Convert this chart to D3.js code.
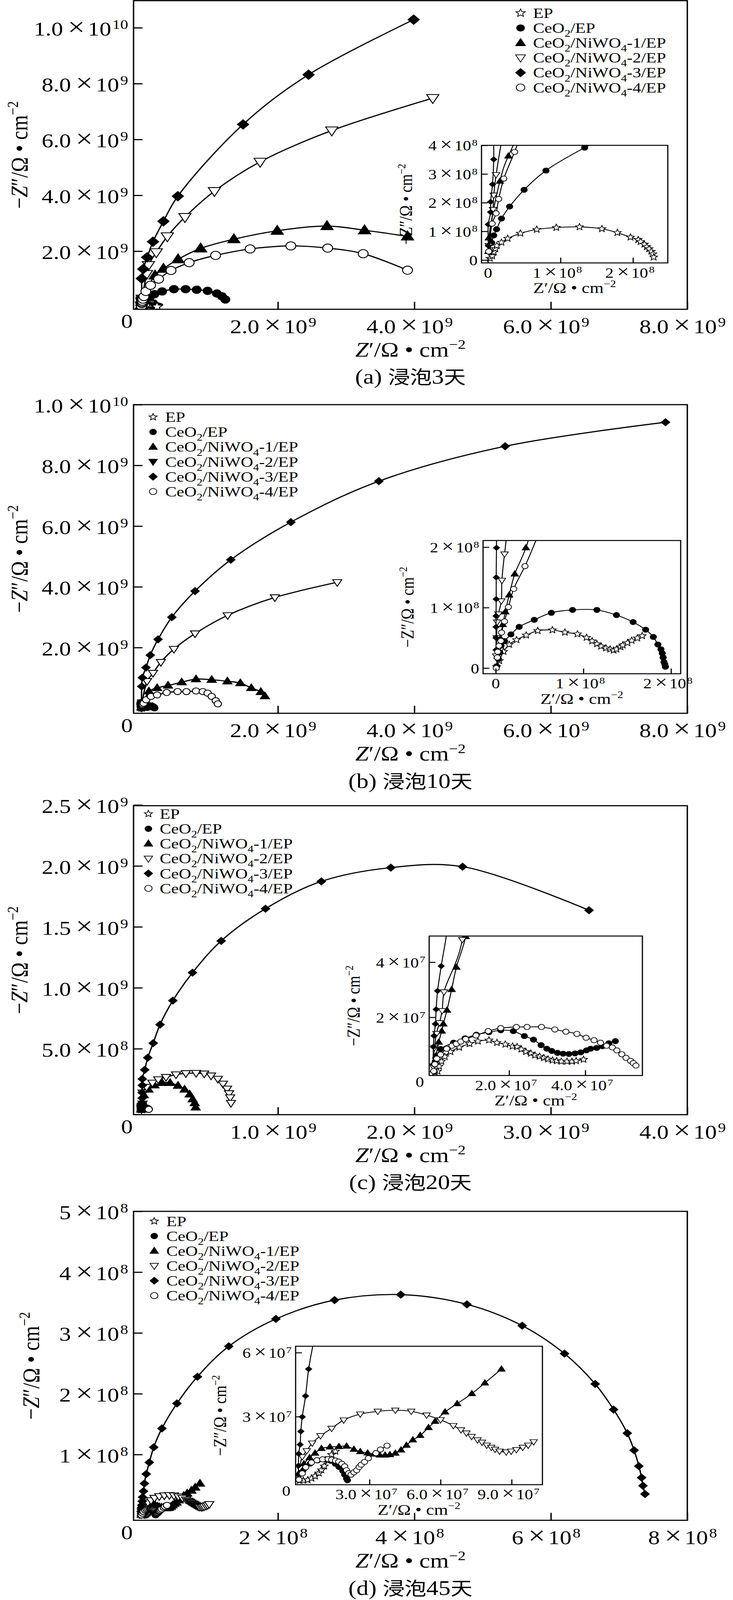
<!DOCTYPE html>
<html>
<head>
<meta charset="utf-8">
<script src="https://cdn.jsdelivr.net/npm/d3@7"></script>
<style>
  html, body { margin: 0; padding: 0; background: #fff; overflow: hidden; }
  svg { display: block; width: 100vw; height: 100vh; }
</style>
</head>
<body>
<svg id="fig"></svg>
<script>
// ---------- data (raw Ω·cm² values) ----------

// (a) 3 days
const a_EP = [[0.026e8,0.055e8],[0.058e8,0.144e8],[0.08e8,0.28e8],[0.10e8,0.39e8],[0.122e8,0.50e8],[0.185e8,0.616e8],[0.271e8,0.75e8],[0.446e8,0.93e8],[0.672e8,1.065e8],[0.942e8,1.133e8],[1.262e8,1.155e8],[1.571e8,1.088e8],[1.784e8,0.953e8],[1.965e8,0.795e8],[2.072e8,0.706e8],[2.104e8,0.64e8],[2.157e8,0.55e8],[2.19e8,0.46e8],[2.222e8,0.39e8],[2.253e8,0.30e8],[2.275e8,0.211e8],[2.285e8,0.099e8]];
const a_CeO2 = [[0.02e8,0.3e8],[0.05e8,0.6e8],[0.079e8,0.86e8],[0.118e8,1.074e8],[0.186e8,1.447e8],[0.298e8,1.865e8],[0.498e8,2.449e8],[0.799e8,3.12e8],[1.333e8,3.918e8],[1.9e8,4.6e8],[3.04e8,5.6e8],[4.76e8,6.4e8],[6.48e8,6.4e8],[8.1e8,6.2e8],[9.7e8,5.8e8],[11.06e8,4.85e8],[11.8e8,3.85e8],[12.3e8,2.7e8]];
const a_N1 = [[0.005e8,0.3e8],[0.01e8,0.77e8],[0.164e8,2.75e8],[0.281e8,3.63e8],[0.2e9,1.13e9],[0.323e9,1.37e9],[0.537e9,1.71e9],[0.868e9,2.10e9],[1.355e9,2.43e9],[1.99e9,2.73e9],[2.72e9,2.9e9],[3.27e9,2.75e9],[3.9e9,2.53e9]];
const a_N2 = [[0.01e8,0.5e8],[0.068e8,1.76e8],[0.079e8,2.26e8],[0.111e8,2.975e8],[0.075e9,1.18e9],[0.103e9,1.50e9],[0.218e9,1.96e9],[0.38e9,2.53e9],[0.638e9,3.22e9],[1.07e9,4.15e9],[1.74e9,5.2e9],[2.79e9,6.32e9],[4.27e9,7.48e9]];
const a_N3 = [[0.004e8,0.5e8],[0.004e8,1.24e8],[0.036e8,1.67e8],[0.036e8,2.03e8],[0.062e8,2.64e8],[0.079e8,3.51e8],[0.005e9,1.02e9],[0.027e9,1.36e9],[0.084e9,1.78e9],[0.17e9,2.34e9],[0.323e9,3.07e9],[0.534e9,3.97e9],[1.49e9,6.54e9],[2.45e9,8.32e9],[3.99e9,10.29e9]];
const a_N4 = [[0.01e8,0.3e8],[0.057e8,1.27e8],[0.111e8,1.63e8],[0.147e8,2.13e8],[0.218e8,2.84e8],[0.367e8,3.77e8],[0.065e9,0.56e9],[0.134e9,0.78e9],[0.252e9,1.0e9],[0.434e9,1.31e9],[0.70e9,1.59e9],[1.087e9,1.85e9],[1.593e9,2.08e9],[2.19e9,2.19e9],[2.73e9,2.11e9],[3.25e9,1.91e9],[3.9e9,1.32e9]];

// (b) 10 days
const b_EP = [[0.01e8,0.02e8],[0.04e8,0.12e8],[0.089e8,0.273e8],[0.153e8,0.389e8],[0.237e8,0.466e8],[0.347e8,0.543e8],[0.479e8,0.617e8],[0.646e8,0.630e8],[0.789e8,0.591e8],[0.932e8,0.563e8],[1.036e8,0.505e8],[1.099e8,0.447e8],[1.154e8,0.399e8],[1.202e8,0.36e8],[1.257e8,0.33e8],[1.305e8,0.311e8],[1.345e8,0.293e8],[1.377e8,0.311e8],[1.424e8,0.35e8],[1.449e8,0.379e8],[1.504e8,0.417e8],[1.551e8,0.456e8],[1.615e8,0.495e8],[1.671e8,0.533e8]];
const b_CeO2 = [[0.01e8,0.03e8],[0.03e8,0.15e8],[0.045e8,0.26e8],[0.06e8,0.37e8],[0.10e8,0.447e8],[0.173e8,0.557e8],[0.267e8,0.682e8],[0.439e8,0.798e8],[0.634e8,0.914e8],[0.876e8,0.962e8],[1.154e8,0.962e8],[1.377e8,0.877e8],[1.567e8,0.761e8],[1.71e8,0.635e8],[1.798e8,0.515e8],[1.85e8,0.39e8],[1.885e8,0.311e8],[1.90e8,0.244e8],[1.91e8,0.176e8],[1.92e8,0.10e8],[1.93e8,0.06e8],[1.936e8,0.022e8]];
const b_N1 = [[0.02e8,0.2e8],[0.05e8,0.5e8],[0.08e8,0.72e8],[0.109e8,0.93e8],[0.153e8,1.21e8],[0.217e8,1.557e8],[0.344e8,1.99e8],[0.11e9,0.56e9],[0.23e9,0.67e9],[0.39e9,0.75e9],[0.59e9,0.86e9],[0.80e9,0.96e9],[1.03e9,0.94e9],[1.26e9,0.89e9],[1.45e9,0.83e9],[1.61e9,0.67e9],[1.75e9,0.54e9],[1.81e9,0.40e9]];
const b_N2 = [[0.005e8,0.2e8],[0.01e8,0.5e8],[0.016e8,0.76e8],[0.03e8,0.894e8],[0.063e8,1.11e8],[0.07e8,1.45e8],[0.10e8,1.885e8],[0.083e9,0.89e9],[0.17e9,1.16e9],[0.285e9,1.52e9],[0.476e9,1.95e9],[0.786e9,2.46e9],[1.264e9,3.06e9],[1.956e9,3.65e9],[2.87e9,4.15e9]];
const b_N3 = [[0.003e8,0.3e8],[0.003e8,0.5e8],[0.003e8,0.68e8],[0.003e8,0.862e8],[0.005e8,1.14e8],[0.005e8,1.5e8],[0.008e8,1.99e8],[0.005e9,0.72e9],[0.014e9,1.01e9],[0.067e9,1.34e9],[0.13e9,1.75e9],[0.244e9,2.27e9],[0.446e9,3.0e9],[0.786e9,3.86e9],[1.31e9,4.89e9],[2.19e9,6.13e9],[3.48e9,7.48e9],[5.33e9,8.63e9],[7.68e9,9.42e9]];
const b_N4 = [[0.005e8,0.0],[0.018e8,0.175e8],[0.022e8,0.27e8],[0.037e8,0.37e8],[0.058e8,0.45e8],[0.066e8,0.588e8],[0.10e8,0.771e8],[0.144e8,1.01e8],[0.205e8,1.31e8],[0.333e8,1.686e8],[0.07e9,0.28e9],[0.14e9,0.39e9],[0.23e9,0.44e9],[0.37e9,0.52e9],[0.53e9,0.55e9],[0.66e9,0.55e9],[0.80e9,0.57e9],[0.90e9,0.55e9],[0.97e9,0.50e9],[1.03e9,0.39e9],[1.09e9,0.25e9],[1.12e9,0.146e9]];

// (c) 20 days
const c_EP = [[0.05e7,0.0],[0.12e7,0.04e7],[0.16e7,0.22e7],[0.22e7,0.40e7],[0.31e7,0.57e7],[0.46e7,0.75e7],[0.69e7,0.91e7],[0.96e7,1.04e7],[1.18e7,1.13e7],[1.47e7,1.17e7],[1.68e7,1.08e7],[1.90e7,1.02e7],[2.09e7,0.95e7],[2.21e7,0.93e7],[2.32e7,0.84e7],[2.44e7,0.75e7],[2.57e7,0.69e7],[2.68e7,0.62e7],[2.80e7,0.58e7],[2.91e7,0.53e7],[3.02e7,0.48e7],[3.14e7,0.44e7],[3.25e7,0.42e7],[3.37e7,0.40e7],[3.52e7,0.40e7],[3.65e7,0.40e7],[3.76e7,0.42e7],[3.955e7,0.47e7]];
const c_CeO2 = [[0.03e7,0.05e7],[0.06e7,0.4e7],[0.2e7,0.85e7],[0.54e7,1.08e7],[0.84e7,1.24e7],[1.14e7,1.37e7],[1.47e7,1.46e7],[1.78e7,1.53e7],[2.11e7,1.50e7],[2.40e7,1.32e7],[2.64e7,1.19e7],[2.84e7,0.99e7],[2.99e7,0.86e7],[3.12e7,0.78e7],[3.27e7,0.71e7],[3.42e7,0.68e7],[3.57e7,0.67e7],[3.73e7,0.69e7],[3.88e7,0.73e7],[4.03e7,0.80e7],[4.14e7,0.86e7],[4.30e7,0.89e7],[4.45e7,0.95e7],[4.62e7,1.06e7],[4.79e7,1.135e7]];
const c_N1 = [[0.02e7,0.1e7],[0.08e7,0.6e7],[0.15e7,1.1e7],[0.23e7,1.50e7],[0.273e7,1.76e7],[0.368e7,2.26e7],[0.49e7,3.01e7],[0.615e7,3.82e7],[0.86e7,4.93e7],[0.017e9,0.12e9],[0.051e9,0.166e9],[0.095e9,0.2e9],[0.152e9,0.22e9],[0.21e9,0.22e9],[0.268e9,0.197e9],[0.316e9,0.166e9],[0.353e9,0.126e9],[0.375e9,0.086e9],[0.39e9,0.054e9],[0.397e9,0.019e9]];
const c_N2 = [[0.01e7,0.2e7],[0.04e7,0.9e7],[0.09e7,1.41e7],[0.17e7,1.80e7],[0.24e7,2.24e7],[0.29e7,2.92e7],[0.77e7,4.82e7],[0.008e9,0.14e9],[0.037e9,0.186e9],[0.08e9,0.22e9],[0.123e9,0.248e9],[0.18e9,0.267e9],[0.253e9,0.288e9],[0.325e9,0.298e9],[0.40e9,0.30e9],[0.46e9,0.295e9],[0.51e9,0.279e9],[0.56e9,0.252e9],[0.597e9,0.212e9],[0.627e9,0.171e9],[0.642e9,0.134e9],[0.65e9,0.1e9],[0.656e9,0.054e9]];
const c_N3 = [[0.005e7,0.3e7],[0.01e7,0.93e7],[0.027e7,1.33e7],[0.064e7,1.76e7],[0.083e7,2.29e7],[0.121e7,2.96e7],[0.216e7,3.86e7],[0.004e9,0.055e9],[0.005e9,0.095e9],[0.005e9,0.14e9],[0.006e9,0.20e9],[0.006e9,0.252e9],[0.024e9,0.327e9],[0.046e9,0.426e9],[0.086e9,0.546e9],[0.136e9,0.698e9],[0.230e9,0.895e9],[0.374e9,1.124e9],[0.584e9,1.385e9],[0.909e9,1.649e9],[1.318e9,1.873e9],[1.827e9,1.986e9],[2.353e9,1.994e9],[3.28e9,1.636e9]];
const c_N4 = [[0.02e7,0.05e7],[0.05e7,0.3e7],[0.1e7,0.5e7],[0.2e7,0.65e7],[0.36e7,0.86e7],[0.50e7,0.97e7],[0.61e7,1.04e7],[0.73e7,1.12e7],[0.86e7,1.21e7],[1.13e7,1.34e7],[1.45e7,1.50e7],[1.78e7,1.61e7],[2.19e7,1.65e7],[2.47e7,1.65e7],[2.85e7,1.65e7],[3.20e7,1.56e7],[3.49e7,1.48e7],[3.78e7,1.40e7],[4.02e7,1.26e7],[4.23e7,1.17e7],[4.40e7,1.08e7],[4.56e7,0.97e7],[4.71e7,0.91e7],[4.83e7,0.80e7],[4.96e7,0.66e7],[5.07e7,0.53e7],[5.19e7,0.42e7],[5.26e7,0.34e7],[5.33e7,0.25e7]];

// (d) 45 days
const d_EP = [[0.05e7,0.0],[0.2e7,0.01e7],[0.39e7,0.03e7],[0.55e7,0.11e7],[0.70e7,0.21e7],[0.86e7,0.35e7],[0.97e7,0.50e7],[1.09e7,0.68e7],[1.25e7,0.95e7],[1.40e7,1.22e7],[1.56e7,1.37e7]];
const d_CeO2 = [[0.02e7,0.05e7],[0.2e7,0.5e7],[0.5e7,0.8e7],[0.8e7,0.95e7],[1.17e7,1.0e7],[1.36e7,0.93e7],[1.56e7,0.79e7],[1.71e7,0.64e7],[1.87e7,0.46e7],[1.95e7,0.28e7],[2.03e7,0.10e7],[2.07e7,0.02e7]];
const d_N1 = [[0.02e7,0.1e7],[0.05e7,0.4e7],[0.23e7,0.79e7],[0.47e7,1.08e7],[0.70e7,1.29e7],[0.97e7,1.51e7],[1.33e7,1.58e7],[1.71e7,1.60e7],[2.03e7,1.62e7],[2.34e7,1.47e7],[2.61e7,1.36e7],[2.92e7,1.30e7],[3.2e7,1.25e7],[3.43e7,1.20e7],[3.66e7,1.20e7],[3.86e7,1.22e7],[4.09e7,1.29e7],[4.33e7,1.44e7],[4.56e7,1.66e7],[4.83e7,1.91e7],[5.14e7,2.12e7],[5.49e7,2.49e7],[5.77e7,2.78e7],[6.19e7,3.22e7],[6.70e7,3.61e7],[7.32e7,4.08e7],[7.87e7,4.58e7],[8.57e7,5.23e7]];
const d_N2 = [[0.02e7,0.2e7],[0.05e7,0.6e7],[0.16e7,1.12e7],[0.35e7,1.40e7],[0.58e7,1.76e7],[0.93e7,2.10e7],[1.40e7,2.45e7],[1.91e7,2.84e7],[2.61e7,3.12e7],[3.35e7,3.25e7],[4.09e7,3.30e7],[4.76e7,3.25e7],[5.41e7,3.07e7],[6.0e7,2.85e7],[6.54e7,2.58e7],[6.86e7,2.38e7],[7.09e7,2.23e7],[7.31e7,2.07e7],[7.56e7,1.91e7],[7.75e7,1.80e7],[7.95e7,1.66e7],[8.14e7,1.56e7],[8.30e7,1.47e7],[8.49e7,1.38e7],[8.77e7,1.34e7],[8.98e7,1.38e7],[9.2e7,1.45e7],[9.47e7,1.56e7],[9.70e7,1.66e7],[9.93e7,1.82e7]];
const d_N3 = [[0.0,0.3e7],[0.0,0.7e7],[0.01e7,1.26e7],[0.07e7,1.69e7],[0.1e7,2.31e7],[0.16e7,2.99e7],[0.30e7,3.97e7],[0.43e7,5.23e7],[0.07e8,0.68e8],[0.115e8,0.87e8],[0.18e8,1.12e8],[0.30e8,1.43e8],[0.52e8,1.84e8],[0.82e8,2.28e8],[1.28e8,2.78e8],[1.97e8,3.23e8],[2.83e8,3.54e8],[3.80e8,3.63e8],[4.77e8,3.47e8],[5.58e8,3.12e8],[6.20e8,2.66e8],[6.65e8,2.16e8],[6.92e8,1.74e8],[7.12e8,1.35e8],[7.22e8,1.07e8],[7.29e8,0.81e8],[7.33e8,0.62e8],[7.35e8,0.486e8],[7.38e8,0.35e8]];
const d_N4 = [[0.02e7,0.05e7],[0.16e7,0.34e7],[0.31e7,0.63e7],[0.55e7,0.85e7],[0.78e7,0.96e7],[1.02e7,1.0e7],[1.25e7,1.01e7],[1.40e7,0.98e7],[1.56e7,0.94e7],[1.70e7,0.89e7],[1.83e7,0.79e7],[1.95e7,0.67e7],[2.03e7,0.49e7],[2.12e7,0.35e7],[2.22e7,0.28e7],[2.34e7,0.39e7],[2.46e7,0.49e7],[2.56e7,0.64e7],[2.65e7,0.75e7],[2.79e7,0.88e7],[2.95e7,1.05e7],[3.27e7,1.29e7],[3.46e7,1.46e7],[3.74e7,1.64e7]];

// tick values and labels  ([mantissa, exponent])
const ab_xticks = [2e9, 4e9, 6e9, 8e9];
const ab_xlab = [['2.0',9],['4.0',9],['6.0',9],['8.0',9]];
const ab_yticks = [2e9, 4e9, 6e9, 8e9, 1e10];
const ab_ylab = [['2.0',9],['4.0',9],['6.0',9],['8.0',9],['1.0',10]];
const c_xticks = [1e9, 2e9, 3e9, 4e9];
const c_xlab = [['1.0',9],['2.0',9],['3.0',9],['4.0',9]];
const c_yticks = [5e8, 1e9, 1.5e9, 2e9, 2.5e9];
const c_ylab = [['5.0',8],['1.0',9],['1.5',9],['2.0',9],['2.5',9]];
const d_xticks = [2e8, 4e8, 6e8, 8e8];
const d_xlab = [['2',8],['4',8],['6',8],['8',8]];
const d_yticks = [1e8, 2e8, 3e8, 4e8, 5e8];
const d_ylab = [['1',8],['2',8],['3',8],['4',8],['5',8]];

const ia_xticks = [0, 1e8, 2e8];
const ia_xlab = [['0'],['1',8],['2',8]];
const ia_yticks = [0, 1e8, 2e8, 3e8, 4e8];
const ia_ylab = [['0'],['1',8],['2',8],['3',8],['4',8]];
const ib_yticks = [0, 1e8, 2e8];
const ib_ylab = [['0'],['1',8],['2',8]];
const ic_xticks = [2e7, 4e7];
const ic_xlab = [['2.0',7],['4.0',7]];
const ic_yticks = [2e7, 4e7];
const ic_ylab = [['2',7],['4',7]];
const id_xticks = [3e7, 6e7, 9e7];
const id_xlab = [['3.0',7],['6.0',7],['9.0',7]];
const id_yticks = [3e7, 6e7];
const id_ylab = [['3',7],['6',7]];

const seriesKeys = ['EP', 'CeO2', 'N1', 'N2', 'N3', 'N4'];
const legendLabels = [
  [['EP']],
  [['CeO'],['2',1],['/EP']],
  [['CeO'],['2',1],['/NiWO'],['4',1],['-1/EP']],
  [['CeO'],['2',1],['/NiWO'],['4',1],['-2/EP']],
  [['CeO'],['2',1],['/NiWO'],['4',1],['-3/EP']],
  [['CeO'],['2',1],['/NiWO'],['4',1],['-4/EP']]
];
const markerType = { EP: 'star', CeO2: 'dot', N1: 'tri', N2: 'down', N3: 'diamond', N4: 'ring' };
const markerFill = { star: '#fff', dot: '#000', tri: '#000', down: '#fff', diamond: '#000', ring: '#fff' };
const mainSize = { star: 24, dot: 19, ring: 21, tri: 26, down: 26, diamond: 24 };
const insetSize = { star: 21, dot: 16, ring: 16, tri: 19, down: 19, diamond: 16 };

// ---------- layout ----------
const W = 1877, H = 4899;
const FONT = "'Liberation Serif','Times New Roman',serif";
const CJK = "'Noto Sans CJK SC','Noto Sans CJK JP',sans-serif";

const panels = [
  { id: 'a', frame: [342, 1760, 2, 947], xdom: [-0.115e9, 8e9], ydom: [-0.08e9, 1.097e10],
    xticks: ab_xticks, xlab: ab_xlab, yticks: ab_yticks, ylab: ab_ylab,
    data: { EP: a_EP, CeO2: a_CeO2, N1: a_N1, N2: a_N2, N3: a_N3, N4: a_N4 },
    mscale: 1.2, legend: { mx: 1333, tx: 1365, dy0: 38 }, filledDown: false, ytitleX: 70,
    caption: ['(a) ', '浸泡', '3', '天'],
    inset: { box: [1233, 1710, 445, 805], xdom: [-0.09e8, 2.48e8], ydom: [-0.1e8, 4.0e8],
      xticks: ia_xticks, xlab: ia_xlab, yticks: ia_yticks, ylab: ia_ylab, corner: false } },
  { id: 'b', frame: [342, 1760, 1239, 2184], xdom: [-0.115e9, 8e9], ydom: [-0.165e9, 1.0e10],
    xticks: ab_xticks, xlab: ab_xlab, yticks: ab_yticks, ylab: ab_ylab,
    data: { EP: b_EP, CeO2: b_CeO2, N1: b_N1, N2: b_N2, N3: b_N3, N4: b_N4 },
    mscale: 0.9, legend: { mx: 392, tx: 423, dy0: 38 }, filledDown: true, ytitleX: 70,
    caption: ['(b) ', '浸泡', '10', '天'],
    inset: { box: [1237, 1743, 1655, 2063], xdom: [-0.145e8, 2.11e8], ydom: [-0.094e8, 2.11e8],
      xticks: ia_xticks, xlab: ia_xlab, yticks: ib_yticks, ylab: ib_ylab, corner: false } },
  { id: 'c', frame: [342, 1760, 2467, 3413], xdom: [-0.058e9, 4e9], ydom: [-0.041e9, 2.494e9],
    xticks: c_xticks, xlab: c_xlab, yticks: c_yticks, ylab: c_ylab,
    data: { EP: c_EP, CeO2: c_CeO2, N1: c_N1, N2: c_N2, N3: c_N3, N4: c_N4 },
    mscale: 0.9, legend: { mx: 380, tx: 409, dy0: 25 }, filledDown: false, ytitleX: 70,
    caption: ['(c) ', '浸泡', '20', '天'],
    inset: { box: [1099, 1645, 2866, 3293], xdom: [-0.1e7, 5.5e7], ydom: [-0.11e7, 4.95e7],
      xticks: ic_xticks, xlab: ic_xlab, yticks: ic_yticks, ylab: ic_ylab, corner: true } },
  { id: 'd', frame: [342, 1760, 3709, 4655], xdom: [-0.116e8, 8e8], ydom: [-0.082e8, 5.0e8],
    xticks: d_xticks, xlab: d_xlab, yticks: d_yticks, ylab: d_ylab,
    data: { EP: d_EP, CeO2: d_CeO2, N1: d_N1, N2: d_N2, N3: d_N3, N4: d_N4 },
    mscale: 0.9, legend: { mx: 395, tx: 426, dy0: 30 }, filledDown: false, ytitleX: 100,
    caption: ['(d) ', '浸泡', '45', '天'],
    inset: { box: [757, 1389, 4122, 4546], xdom: [-0.12e7, 10.3e7], ydom: [-0.19e7, 6.3e7],
      xticks: id_xticks, xlab: id_xlab, yticks: id_yticks, ylab: id_ylab, corner: true } }
];

// the drawing is laid out on a 1877 x 4899 canvas and fitted to the window
const svg = d3.select('#fig')
  .attr('viewBox', `0 0 ${W} ${H}`)
  .attr('preserveAspectRatio', 'none')
  .style('font-family', FONT);
svg.append('rect').attr('width', W).attr('height', H).attr('fill', '#fff');
const defs = svg.append('defs');

// ---------- helpers ----------
function markerPath(type, s) {
  const p = d3.path(), r = s / 2;
  if (type === 'dot' || type === 'ring') {
    p.arc(0, 0, r, 0, 2 * Math.PI);
  } else if (type === 'tri' || type === 'down') {
    const h = s * 0.88, k = type === 'tri' ? 1 : -1;
    p.moveTo(0, -k * h * 0.6); p.lineTo(r, k * h * 0.4); p.lineTo(-r, k * h * 0.4); p.closePath();
  } else if (type === 'diamond') {
    p.moveTo(0, -r); p.lineTo(r, 0); p.lineTo(0, r); p.lineTo(-r, 0); p.closePath();
  } else {
    for (let i = 0; i < 10; i++) {
      const a = -Math.PI / 2 + i * Math.PI / 5, rr = i % 2 ? r * 0.45 : r;
      if (i) p.lineTo(rr * Math.cos(a), rr * Math.sin(a)); else p.moveTo(rr * Math.cos(a), rr * Math.sin(a));
    }
    p.closePath();
  }
  return p.toString();
}

function sci(t, lab, fs) {
  t.append('tspan').text(lab[0]);
  if (lab[1] === undefined) return;
  t.append('tspan').attr('dx', 0.2 * fs).attr('font-size', 1.3 * fs).text('×');
  t.append('tspan').attr('dx', 0.12 * fs).text('10');
  t.append('tspan').attr('dx', 0.05 * fs).attr('dy', -0.34 * fs).attr('font-size', 0.67 * fs).text(lab[1]);
}

function unitTitle(t, prefix, prime, italic, fs) {
  if (prefix) t.append('tspan').text(prefix);
  t.append('tspan').attr('font-style', italic ? 'italic' : 'normal').text('Z');
  t.append('tspan').text(prime + '/Ω • cm');
  t.append('tspan').attr('dy', -0.38 * fs).attr('font-size', 0.65 * fs).text('−2');
}

function drawSeries(g, x, y, data, key, sizes, scale, lw, mlw) {
  const type = markerType[key];
  const line = d3.line().x(d => x(d[0])).y(d => y(d[1])).curve(d3.curveCatmullRom.alpha(0.5));
  g.append('path').datum(data).attr('d', line)
    .attr('fill', 'none').attr('stroke', '#000').attr('stroke-width', lw);
  g.selectAll(null).data(data).enter().append('path')
    .attr('d', markerPath(type, sizes[type] * scale))
    .attr('transform', d => `translate(${x(d[0])},${y(d[1])})`)
    .attr('fill', markerFill[type]).attr('stroke', '#000').attr('stroke-width', mlw);
}

function drawAxes(g, x, y, box, P, fs, tick, o) {
  const [x0, x1, y0, y1] = box;
  g.append('g').attr('transform', `translate(0,${y1})`)
    .call(d3.axisBottom(x).tickValues(P.xticks).tickSizeInner(-tick).tickSizeOuter(0).tickFormat(() => ''))
    .call(s => s.select('.domain').remove())
    .call(s => s.selectAll('line').attr('stroke-width', o.tw));
  g.append('g').attr('transform', `translate(${x0},0)`)
    .call(d3.axisLeft(y).tickValues(P.yticks).tickSizeInner(-tick).tickSizeOuter(0).tickFormat(() => ''))
    .call(s => s.select('.domain').remove())
    .call(s => s.selectAll('line').attr('stroke-width', o.tw));
  P.xticks.forEach((v, i) => {
    const t = g.append('text').attr('x', x(v) + (P.xlab[i][1] !== undefined ? o.xshift : 0))
      .attr('y', y1 + o.xbase).attr('text-anchor', 'middle').attr('font-size', fs);
    sci(t, P.xlab[i], fs);
  });
  P.yticks.forEach((v, i) => {
    const t = g.append('text').attr('x', x0 - o.ygap).attr('y', y(v) + o.ybase)
      .attr('text-anchor', 'end').attr('font-size', fs);
    sci(t, P.ylab[i], fs);
  });
  g.append('rect').attr('x', x0).attr('y', y0).attr('width', x1 - x0).attr('height', y1 - y0)
    .attr('fill', 'none').attr('stroke', '#000').attr('stroke-width', o.fw);
}

// ---------- draw ----------
panels.forEach(P => {
  const [x0, x1, y0, y1] = P.frame;
  const g = svg.append('g');
  const x = d3.scaleLinear().domain(P.xdom).range([x0, x1]);
  const y = d3.scaleLinear().domain(P.ydom).range([y1, y0]);

  defs.append('clipPath').attr('id', 'clip-' + P.id)
    .append('rect').attr('x', x0).attr('y', y0).attr('width', x1 - x0).attr('height', y1 - y0);
  const plot = g.append('g').attr('clip-path', `url(#clip-${P.id})`);
  seriesKeys.forEach(k => drawSeries(plot, x, y, P.data[k], k, mainSize, P.mscale, 3.5, 2.5));

  drawAxes(g, x, y, P.frame, P, 60, 23, { tw: 3.5, fw: 3.5, xbase: 73, xshift: -12, ygap: 14, ybase: 24 });
  g.append('text').attr('x', x0 - 17).attr('y', y1 + 57).attr('text-anchor', 'middle')
    .attr('font-size', 60).text('0');

  // axis titles
  const xt = g.append('text').attr('x', (x0 + x1) / 2).attr('y', y1 + 145)
    .attr('text-anchor', 'middle').attr('font-size', 62);
  unitTitle(xt, '', '′', true, 62);
  const yt = g.append('text').attr('transform', `translate(${P.ytitleX},${(y0 + y1) / 2}) rotate(-90)`)
    .attr('text-anchor', 'middle').attr('font-size', 62);
  unitTitle(yt, '−', '″', true, 62);

  // caption
  const cap = g.append('text').attr('x', (x0 + x1) / 2).attr('y', y1 + 228)
    .attr('text-anchor', 'middle').attr('font-size', 56);
  P.caption.forEach((s, i) => cap.append('tspan')
    .attr('font-family', i % 2 ? CJK : FONT).attr('font-size', i % 2 ? 56 : 62).text(s));

  // legend
  const L = P.legend;
  seriesKeys.forEach((k, i) => {
    const cy = y0 + L.dy0 + i * 45.6;
    const type = markerType[k];
    const fill = (k === 'N2' && P.filledDown) ? '#000' : markerFill[type];
    g.append('path').attr('d', markerPath(type, Math.min(mainSize[type], 24) * (P.id === 'a' ? 1.05 : 0.9)))
      .attr('transform', `translate(${L.mx},${cy})`)
      .attr('fill', fill).attr('stroke', '#000').attr('stroke-width', 2);
    const t = g.append('text').attr('x', L.tx).attr('y', cy + 15).attr('font-size', 44);
    let shifted = false;
    legendLabels[i].forEach(part => {
      const sp = t.append('tspan').text(part[0]);
      if (part[1]) { sp.attr('font-size', 30).attr('dy', 12); shifted = true; }
      else if (shifted) { sp.attr('dy', -12); shifted = false; }
    });
  });

  // inset
  const I = P.inset;
  const [ix0, ix1, iy0, iy1] = I.box;
  const xi = d3.scaleLinear().domain(I.xdom).range([ix0, ix1]);
  const yi = d3.scaleLinear().domain(I.ydom).range([iy1, iy0]);
  g.append('rect').attr('x', ix0).attr('y', iy0).attr('width', ix1 - ix0).attr('height', iy1 - iy0)
    .attr('fill', '#fff');
  defs.append('clipPath').attr('id', 'iclip-' + P.id)
    .append('rect').attr('x', ix0).attr('y', iy0).attr('width', ix1 - ix0).attr('height', iy1 - iy0);
  const iplot = g.append('g').attr('clip-path', `url(#iclip-${P.id})`);
  seriesKeys.forEach(k => drawSeries(iplot, xi, yi, P.data[k], k, insetSize, 1, 2.5, 2));
  drawAxes(g, xi, yi, I.box, I, 43, 16, { tw: 3, fw: 3, xbase: 45, xshift: -8, ygap: 10, ybase: 16 });
  if (I.corner) {
    g.append('text').attr('x', ix0 - 24).attr('y', iy1 + 34).attr('text-anchor', 'middle')
      .attr('font-size', 43).text('0');
  }
  const ixt = g.append('text').attr('x', (ix0 + ix1) / 2).attr('y', iy1 + 92)
    .attr('text-anchor', 'middle').attr('font-size', 46);
  unitTitle(ixt, '', '′', false, 46);
  const iyt = g.append('text').attr('transform', `translate(${ix0 - 178},${(iy0 + iy1) / 2}) rotate(-90)`)
    .attr('text-anchor', 'middle').attr('font-size', 46);
  unitTitle(iyt, '−', '″', false, 46);
});
</script>
</body>
</html>
